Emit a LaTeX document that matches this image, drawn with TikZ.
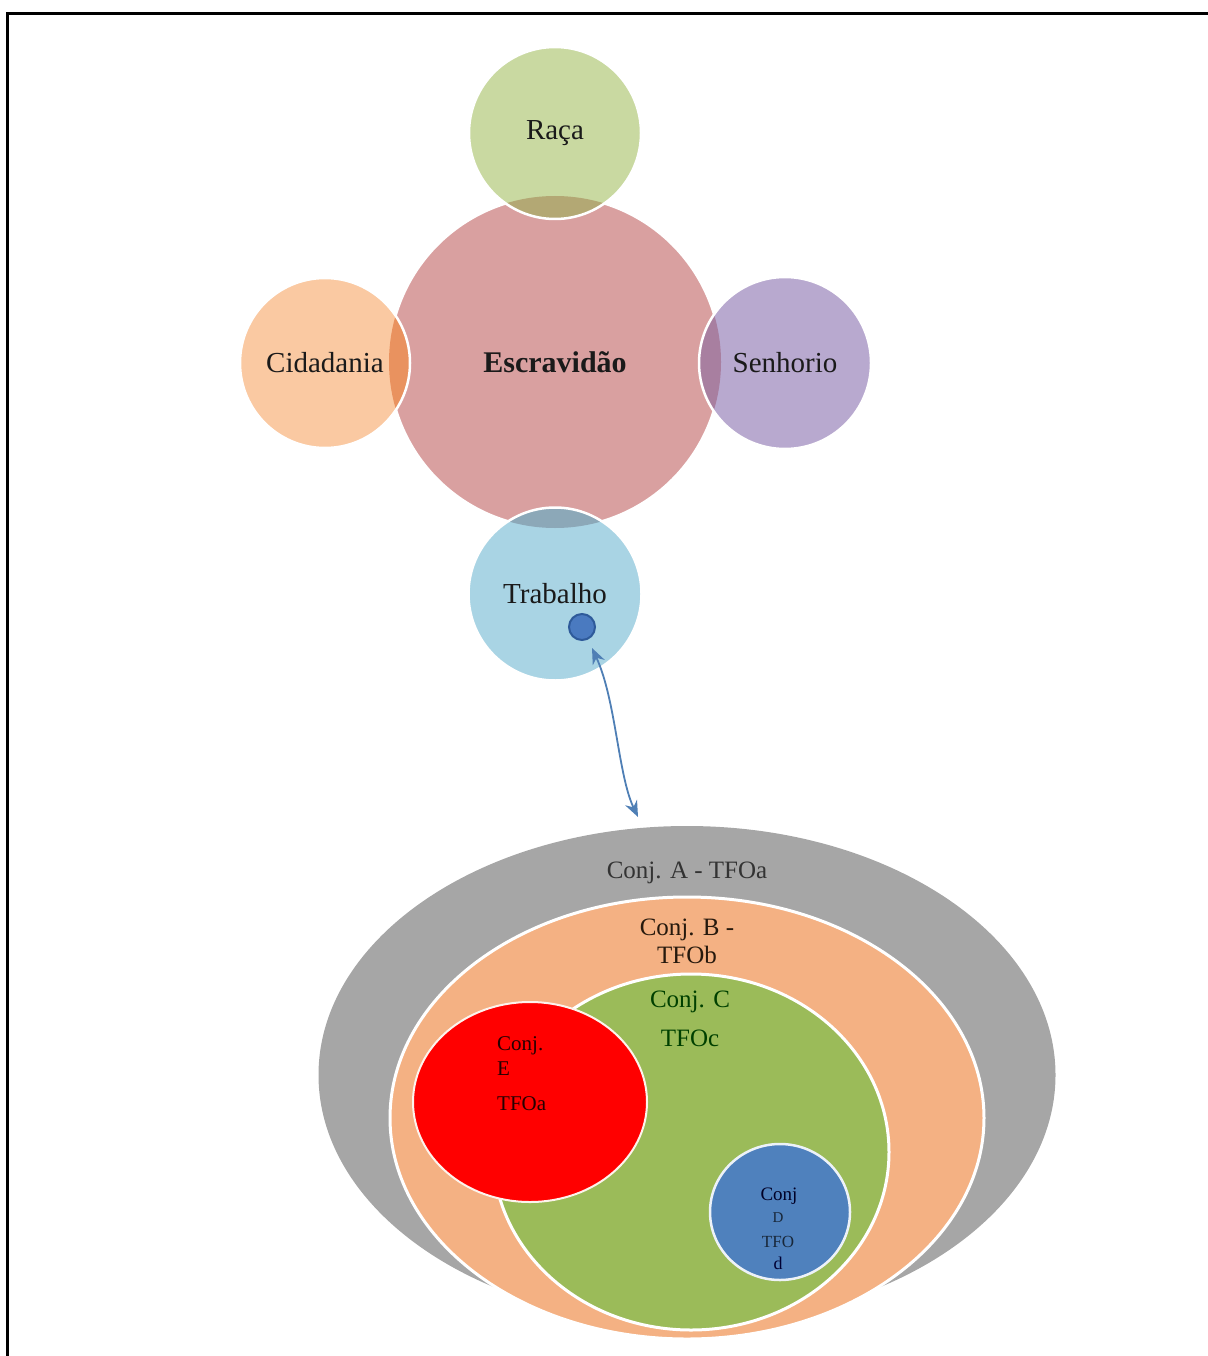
\documentclass[tikz,border=0pt]{standalone}
\usepackage{fontspec}
\setmainfont{Liberation Serif}
\usetikzlibrary{shapes.geometric,arrows.meta}
\definecolor{cEsc}{HTML}{D9A0A0}
\definecolor{cRaca}{HTML}{C9D9A1}
\definecolor{cCid}{HTML}{FAC9A2}
\definecolor{cSen}{HTML}{B8A9CF}
\definecolor{cTrab}{HTML}{A9D4E4}
\definecolor{lRaca}{HTML}{B3A874}
\definecolor{lCid}{HTML}{E9925F}
\definecolor{lSen}{HTML}{A87FA0}
\definecolor{lTrab}{HTML}{8CA8B8}
\definecolor{cDot}{HTML}{4A7AC0}
\definecolor{cDotB}{HTML}{2E5A9A}
\definecolor{cArrow}{HTML}{4F7FB5}
\definecolor{cA}{HTML}{A6A6A6}
\definecolor{cB}{HTML}{F4B183}
\definecolor{cC}{HTML}{9BBB59}
\definecolor{cE}{HTML}{FF0000}
\definecolor{cD}{HTML}{4F81BD}
\definecolor{tDark}{HTML}{1A1A1A}
\begin{document}
\begin{tikzpicture}[x=1pt,y=-1pt,
  bub/.style={circle, inner sep=0pt, outer sep=0pt, draw=white, line width=2.5pt,
    text=tDark, font=\fontsize{29}{30}\selectfont},
  ell/.style={ellipse, inner sep=0pt, outer sep=0pt},
  lab/.style={inner sep=0pt, font=\fontsize{25}{26}\selectfont},
  smalllab/.style={inner sep=0pt, anchor=west, text=black!85!red, font=\fontsize{21}{22}\selectfont},
  dlab/.style={inner sep=0pt, text=cD!30!black}
]
\useasboundingbox (0,0) rectangle (1207,1356);
% frame
\draw[line width=3pt] (7,1360) -- (7,14) -- (1210,14);

% upper cluster
\node[bub, fill=cEsc, minimum size=332pt, font=\fontsize{30}{31}\selectfont\bfseries] (esc) at (555,362) {Escravidão};
\node[bub, fill=cRaca, minimum size=172pt,
  path picture={\fill[lRaca] (esc.center) circle[radius=166pt];}] (raca) at (555,133) {Raça};
\node[bub, fill=cCid, minimum size=170pt,
  path picture={\fill[lCid] (esc.center) circle[radius=166pt];}] (cid) at (325,363) {Cidadania};
\node[bub, fill=cSen, minimum size=172pt,
  path picture={\fill[lSen] (esc.center) circle[radius=166pt];}] (sen) at (785,363) {Senhorio};
\node[bub, fill=cTrab, minimum size=173pt,
  path picture={\fill[lTrab] (esc.center) circle[radius=166pt];}] (trab) at (555,594) {Trabalho};
\node[circle, inner sep=0pt, minimum size=26pt, fill=cDot, draw=cDotB, line width=2pt] (dot) at (582,627) {};

% arrow
\coordinate (a1) at (592,648);
\coordinate (a2) at (638,817);
\draw[cArrow, line width=1.8pt, {Stealth[length=16pt,width=13pt]}-{Stealth[length=16pt,width=13pt]}]
  (a1) .. controls (616,700) and (618,775) .. (a2);

% lower sets
\node[ell, fill=cA, minimum width=737pt, minimum height=498pt] (setA) at (687,1075) {};
\node[ell, fill=cB, draw=white, line width=3pt, minimum width=594pt, minimum height=442pt] (setB) at (687,1118) {};
\node[ell, fill=cC, draw=white, line width=3pt, minimum width=396pt, minimum height=356pt] (setC) at (691,1152) {};
\node[ell, fill=cE, draw=white!85!cB, line width=2pt, minimum width=234pt, minimum height=200pt] (setE) at (530,1102) {};
\node[ell, fill=cD, draw=white!90!cD, line width=2.5pt, minimum width=140pt, minimum height=136pt] (setD) at (780,1212) {};

\node[lab, text=black!80] (tA) at (687,873) {Conj. A - TFOa};
\node[lab, text=black!80!brown] (tB1) at (687,930) {Conj. B -};
\node[lab, text=black!80!brown] (tB2) at (687,955) {TFOb};
\node[lab, text=black!75!green] (tC1) at (690,1002) {Conj. C};
\node[lab, text=black!75!green] (tC2) at (690,1038) {TFOc};

\node[smalllab] (tE1) at (497,1046) {Conj.};
\node[smalllab] (tE2) at (497,1069) {E};
\node[smalllab] (tE3) at (497,1104) {TFOa};

\node[dlab, text=black!85!blue, font=\fontsize{19}{20}\selectfont] (tD1) at (779,1196) {Conj};
\node[dlab, font=\fontsize{15}{16}\selectfont] (tD2) at (778,1218) {D};
\node[dlab, font=\fontsize{17}{18}\selectfont] (tD3) at (778,1242) {TFO};
\node[dlab, text=black!80!blue, font=\fontsize{18}{19}\selectfont] (tD4) at (778,1263) {d};
\end{tikzpicture}
\end{document}
